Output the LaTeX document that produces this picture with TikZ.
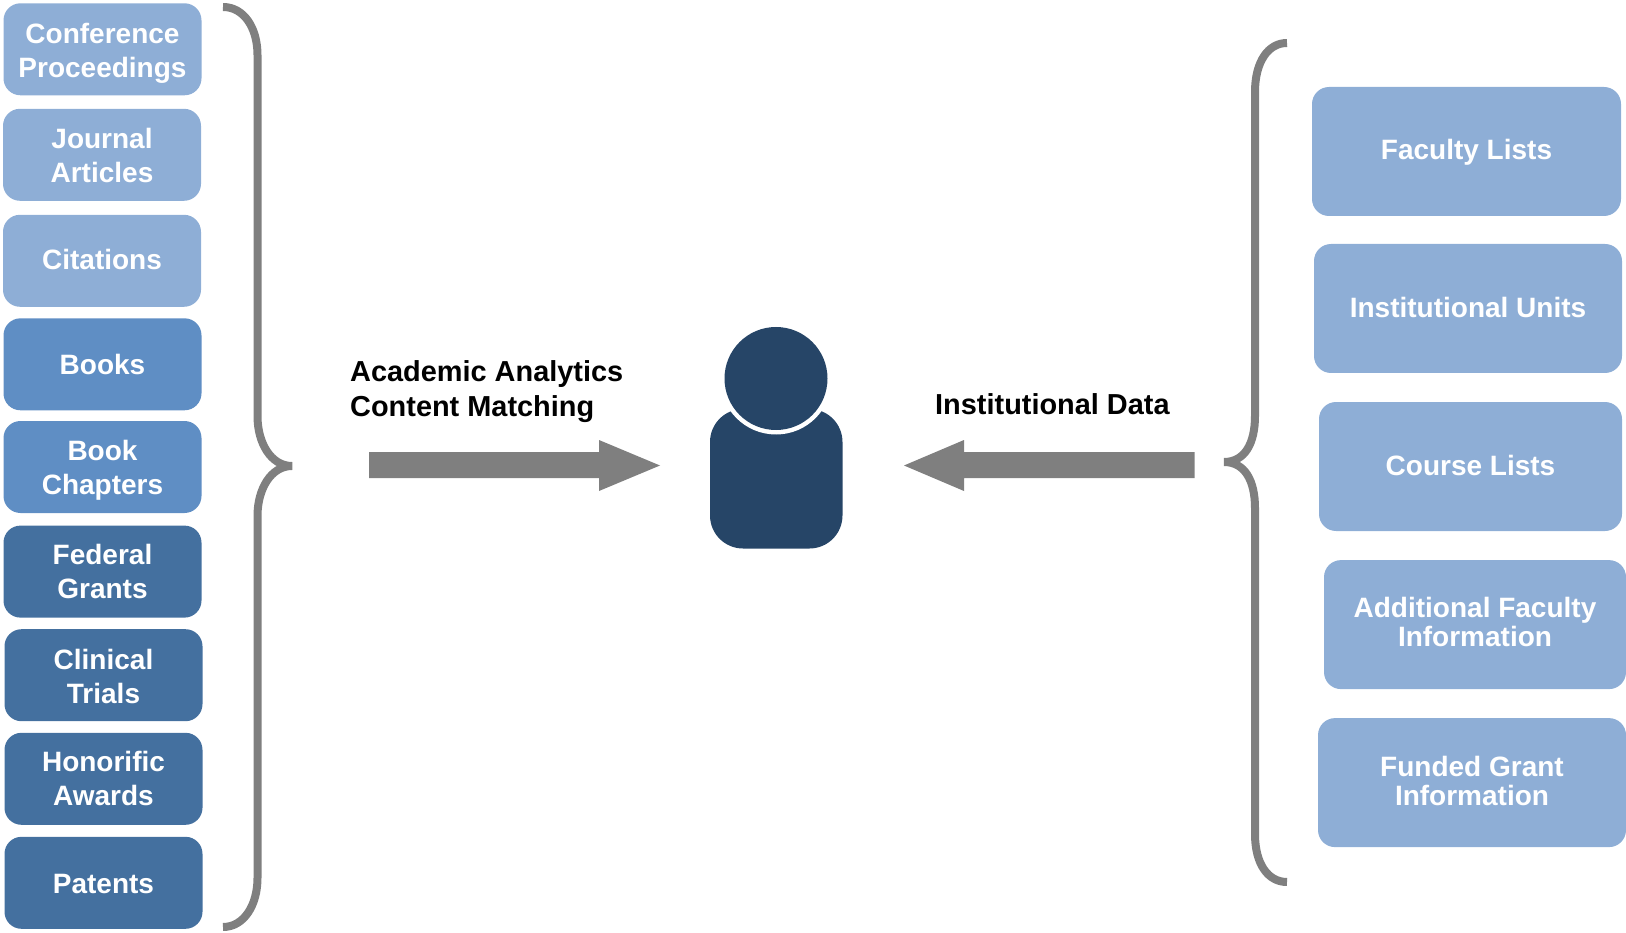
\documentclass[tikz,border=0pt]{standalone}
\usepackage{fontspec}
\setmainfont{Liberation Sans}
\definecolor{boxlight}{HTML}{8EAED6}
\definecolor{boxmid}{HTML}{5F8EC4}
\definecolor{boxdark}{HTML}{44709F}
\definecolor{persondark}{HTML}{264567}
\definecolor{greyline}{HTML}{7F7F7F}
\tikzset{
  basebox/.style={rectangle,rounded corners=17pt,inner sep=0pt},
  leftlabel/.style={inner sep=0pt,align=center,text=white,font=\fontsize{28}{34}\selectfont\bfseries},
  rightlabel/.style={inner sep=0pt,align=center,text=white,font=\fontsize{28}{29}\selectfont\bfseries},
  leftbox/.style={basebox,minimum width=198pt,minimum height=92pt},
  rightbox/.style={basebox,minimum width=306pt,minimum height=129pt},
  brace/.style={draw=greyline,line width=8pt,line join=bevel},
  bigarrow/.style={fill=greyline,draw=none},
  caption/.style={inner sep=0pt,align=left,anchor=west,text=black,font=\fontsize{28.9}{35}\selectfont\bfseries},
}
\begin{document}
\begin{tikzpicture}[x=1pt,y=-1pt]
\useasboundingbox (0,0) rectangle (1626,933);
% left boxes
\node[leftbox,fill=boxlight,label={[leftlabel,yshift=-4pt]center:Conference\\Proceedings}] (conf) at (102.5,49.3) {};
\node[leftbox,fill=boxlight,label={[leftlabel,yshift=-0.5pt]center:Journal\\Articles}] (jour) at (102,154.8) {};
\node[leftbox,fill=boxlight,label={[leftlabel,yshift=1pt]center:Citations}] (cite) at (102,260.8) {};
\node[leftbox,fill=boxmid,label={[leftlabel]center:Books}] (book) at (102.5,364.3) {};
\node[leftbox,fill=boxmid,label={[leftlabel,yshift=-3pt]center:Book\\Chapters}] (chap) at (102.5,467) {};
\node[leftbox,fill=boxdark,label={[leftlabel]center:Federal\\Grants}] (fedg) at (102.5,571.6) {};
\node[leftbox,fill=boxdark,label={[leftlabel,yshift=-1pt]center:Clinical\\Trials}] (clin) at (103.5,675.2) {};
\node[leftbox,fill=boxdark,label={[leftlabel]center:Honorific\\Awards}] (hono) at (103.5,778.8) {};
\node[leftbox,fill=boxdark,label={[leftlabel,yshift=-1pt]center:Patents}] (pate) at (103.5,882.8) {};
% right boxes
\node[rightbox,fill=boxlight,minimum width=309pt,label={[rightlabel,yshift=-1pt]center:Faculty Lists}] (facu) at (1466.5,151.5) {};
\node[rightbox,fill=boxlight,minimum width=308pt,label={[rightlabel,yshift=1pt]center:Institutional Units}] (inst) at (1468,308.5) {};
\node[rightbox,fill=boxlight,minimum width=303pt,label={[rightlabel,yshift=1pt]center:Course Lists}] (cour) at (1470.5,466.5) {};
\node[rightbox,fill=boxlight,minimum width=302pt,label={[rightlabel,yshift=2.5pt]center:Additional Faculty\\Information}] (addi) at (1475,624.6) {};
\node[rightbox,fill=boxlight,minimum width=308pt,label={[rightlabel,yshift=2pt]center:Funded Grant\\Information}] (fund) at (1472,782.6) {};
% braces
\draw[brace] (223,7) .. controls (244,7) and (257.5,28) .. (257.5,55) -- (257.5,416)
  .. controls (257.5,443) and (271,466) .. (292,466)
  .. controls (271,466) and (257.5,489) .. (257.5,516) -- (257.5,878)
  .. controls (257.5,905) and (244,927) .. (223,927);
\draw[brace] (1287,43) .. controls (1268,43) and (1255,62) .. (1255,92) -- (1255,416)
  .. controls (1255,443) and (1245,462) .. (1224,462)
  .. controls (1245,462) and (1255,481) .. (1255,508) -- (1255,834)
  .. controls (1255,864) and (1268,882) .. (1287,882);
% arrows
\fill[bigarrow] (369,452) -- (599,452) -- (599,440) -- (660,465.5) -- (599,491) -- (599,478) -- (369,478) -- cycle;
\fill[bigarrow] (1194.5,452) -- (964,452) -- (964,440) -- (904,465.5) -- (964,491) -- (964,478) -- (1194.5,478) -- cycle;
% person
\fill[persondark,rounded corners=33pt] (710,409) rectangle (842.5,548.5);
\fill[white] (776,378.5) circle (56);
\fill[persondark] (776,378.5) circle (51.5);
% captions
\node[caption] (acad) at (350,392) {Academic Analytics\\Content Matching};
\node[caption] (data) at (935,404) {Institutional Data};
\end{tikzpicture}
\end{document}
